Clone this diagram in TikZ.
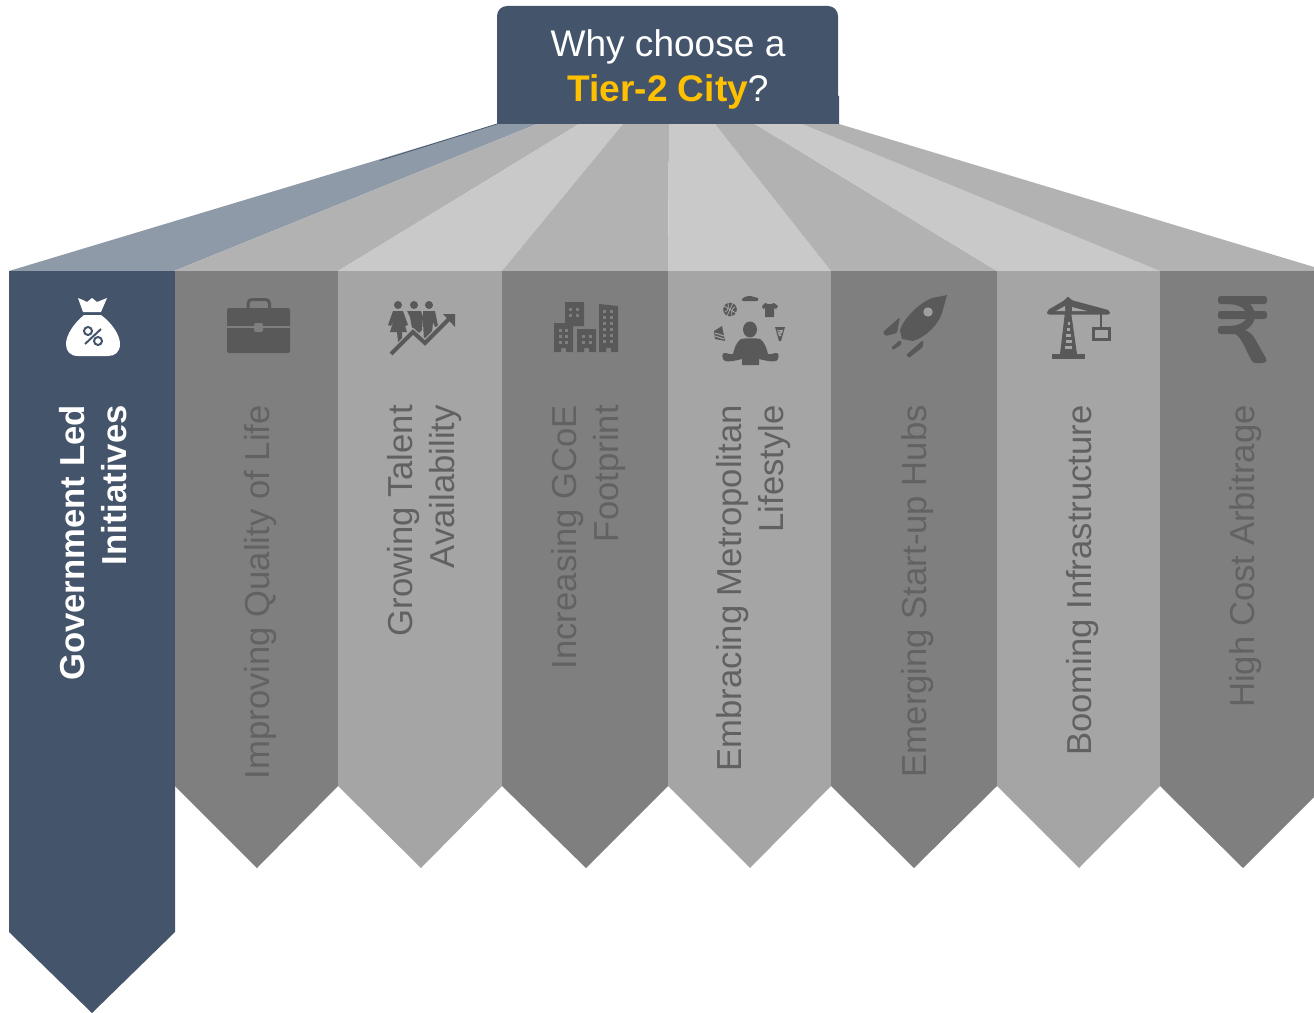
\documentclass[tikz,border=0pt]{standalone}
\usepackage{fontspec}
\setmainfont{Liberation Sans}
\definecolor{navy}{HTML}{44546A}
\definecolor{fanblue}{HTML}{8E9AA8}
\definecolor{fanmid}{HTML}{B2B2B2}
\definecolor{fanlite}{HTML}{C9C9C9}
\definecolor{coldark}{HTML}{7F7F7F}
\definecolor{collite}{HTML}{A5A5A5}
\definecolor{ink}{HTML}{595959}
\definecolor{gold}{HTML}{FFC000}
\tikzset{
  px/.style={line width=#1*0.75pt},
  lab/.style={inner sep=0pt,rotate=90,anchor=base east,align=right,font=\fontsize{26}{31.5}\selectfont},
  labdark/.style={lab,text=ink!75!coldark},
  lablite/.style={lab,text=ink!90!collite},
  icon/.style={fill=ink,draw=none},
}
\begin{document}
\begin{tikzpicture}[x=0.75pt,y=-0.75pt]
\useasboundingbox (0,0) rectangle (1314,1013);
\fill[white] (0,0) rectangle (1314,1013);
% fan
\fill[fanblue] (497,124)--(537,124)--(174,271)--(9,271)--cycle;
\fill[fanmid] (537,124)--(579,124)--(338,271)--(174,271)--cycle;
\fill[fanlite] (579,124)--(623,124)--(502,271)--(338,271)--cycle;
\fill[fanmid] (623,124)--(669,124)--(668,271)--(502,271)--cycle;
\fill[fanlite] (669,124)--(715,124)--(831,271)--(668,271)--cycle;
\fill[fanmid] (715,124)--(755,124)--(997,271)--(831,271)--cycle;
\fill[fanlite] (755,124)--(802,124)--(1160,271)--(997,271)--cycle;
\fill[fanmid] (802,124)--(839,124)--(1314,267)--(1314,271)--(1160,271)--cycle;
\draw[navy,px=.7] (497,124)--(380,160.5);
% columns
\fill[navy] (9,271)--(175,271)--(175,932)--(92,1013)--(9,932)--cycle;
\fill[coldark] (175,271)--(338,271)--(338,786)--(257,868)--(175,786)--cycle;
\fill[collite] (338,271)--(502,271)--(502,786)--(421,868)--(338,786)--cycle;
\fill[coldark] (502,271)--(668,271)--(668,786)--(586,868)--(502,786)--cycle;
\fill[collite] (668,271)--(831,271)--(831,786)--(750,868)--(668,786)--cycle;
\fill[coldark] (831,271)--(997,271)--(997,786)--(914,868)--(831,786)--cycle;
\fill[collite] (997,271)--(1160,271)--(1160,786)--(1079,868)--(997,786)--cycle;
\fill[coldark] (1160,271)--(1314,271)--(1314,797)--(1243,868)--(1160,786)--cycle;
% title box
\fill[navy] (497,124) [rounded corners=7.5pt] --(497,6)--(838,6) [sharp corners] --(838,96)--(839,96)--(839,124)--cycle;
\node[text=white,inner sep=0pt,anchor=base] (title1) at (668,57) {\fontsize{27.8}{33}\selectfont Why choose a};
\node[text=white,inner sep=0pt,anchor=base] (title2) at (668,102) {\fontsize{27.8}{33}\selectfont\textcolor{gold}{\textbf{Tier-2 City}}?};
% labels
\node[lab,text=white,font=\fontsize{26}{31.5}\selectfont\bfseries] (t1) at (126.5,405) {Government Led\\Initiatives};
\node[labdark] (t2) at (269,405) {Improving Quality of Life};
\node[lablite] (t3) at (454,405) {Growing Talent\\Availability};
\node[labdark] (t4) at (618.5,405) {Increasing GCoE\\Footprint};
\node[lablite] (t5) at (783.5,405) {Embracing Metropolitan\\Lifestyle};
\node[labdark] (t6) at (926.5,405) {Emerging Start-up Hubs};
\node[lablite] (t7) at (1091.5,405) {Booming Infrastructure};
\node[labdark] (t8) at (1254.5,405) {High Cost Arbitrage};
% money bag
\fill[white] (78,298)--(83,300)--(87,302)--(92,298)--(97,302)--(107,298)--(101,312)--(83,312)--cycle;
\fill[white] (84,315)--(101,315) .. controls (112,323) and (120,335) .. (120,344) .. controls (120,352) and (115,356) .. (108,356)--(78,356) .. controls (70,356) and (66,351) .. (66,344) .. controls (66,335) and (74,323) .. (84,315)--cycle;
\draw[navy,px=2] (88,331) circle[radius=4] (98,341) circle[radius=4] (85,344)--(101,329);
% briefcase
\fill[ink,rounded corners=1.5pt] (227,308) rectangle (290,353);
\draw[ink,px=3,rounded corners=3pt] (248,308)--(248,299.5)--(269.5,299.5)--(269.5,308);
\fill[coldark] (227,325.5) rectangle (290,327.5);
\fill[coldark,rounded corners=1.5pt] (254,323) rectangle (263,332);
% people + arrow
\fill[icon] (398,305) circle[radius=4] (414,305) circle[radius=4] (429,305) circle[radius=4];
\fill[icon] (393,311)--(403,311)--(408,325)--(405,326)--(403,319)--(407,332)--(402,332)--(402,342)--(398,342)--(397,332)--(390,332)--(394,319)--(391,326)--(388,325)--cycle;
\fill[icon] (407,311)--(421,311)--(423,317)--(422,330)--(418,334)--(412,328)--(410,317)--cycle;
\fill[icon] (423,311)--(435,311)--(438,326)--(435,327)--(433,322)--(432,333)--(424,342)--(423,322)--cycle;
\draw[collite,px=6.5] (392,353)--(413,332)--(425,343)--(449,319);
\draw[ink,px=4] (391,354)--(413,332)--(425,343)--(449,319);
\fill[icon] (443,314)--(455,314)--(455,327)--cycle;
% buildings
\fill[icon] (565,302)--(584,302)--(584,326)--(573,326)--(573,323)--(565,323)--cycle;
\fill[icon] (554,323)--(573,323)--(573,352)--(566,352)--(566,348)--(561,348)--(561,352)--(554,352)--cycle;
\fill[icon] (577,329)--(596,329)--(596,352)--(589,352)--(589,348)--(584,348)--(584,352)--(577,352)--cycle;
\fill[icon] (599,304)--(618,306)--(618,352)--(611,352)--(611,348)--(606,348)--(606,352)--(599,352)--cycle;
\foreach \x/\y in {570/309,577/309,570/315,577/315,
  560/330,566/330,560/336,566/336,560/342,566/342,
  583/336,590/336,583/342,590/342,
  604/311,611/311,604/317,611/317,604/323,611/323,604/329,611/329,604/335,611/335,604/341,611/341}
  \fill[coldark] (\x-1.5,\y-1.5) rectangle (\x+1.5,\y+1.5);
% meditating person
\fill[icon] (750,329.5) ellipse[x radius=7,y radius=8];
\fill[icon] (741,339) .. controls (745,338) and (755,338) .. (760,339) .. controls (765,342) and (767,350) .. (768,354) .. controls (770,355) and (774,353) .. (776,353) .. controls (780,352) and (779,360) .. (776,361) .. controls (772,362) and (767,361) .. (759,359)--(759,365)--(742,365)--(742,359) .. controls (734,361) and (729,362) .. (725,361) .. controls (722,360) and (721,352) .. (725,353) .. controls (727,353) and (731,355) .. (733,354) .. controls (734,350) and (736,342) .. (741,339)--cycle;
\fill[icon] (730,309.5) circle[radius=6.8];
\draw[collite,px=.8] (724,306)--(736,313) (733,303)--(727,316) (725,312) .. controls (728,311) and (729,307) .. (728,303) (735,307) .. controls (732,308) and (731,312) .. (732,316);
\fill[icon] (742,299) .. controls (745,296) and (750,295) .. (754,297)--(758,298) .. controls (759,299) and (758,301) .. (757,301)--(743,301) .. controls (742,301) and (742,300) .. (742,299)--cycle;
\fill[icon] (765,303)--(768,304)--(771,304)--(774,303)--(778,306)--(776,309)--(774,308)--(774,317)--(765,317)--(765,308)--(763,309)--(762,306)--cycle;
\fill[icon] (722,326)--(714,331)--(715,339)--(725,341)--cycle;
\draw[collite,px=1] (715,333)--(724,336) (715,336)--(724,339);
\fill[icon] (775,327)--(785,327)--(781,341)--(779,341)--cycle;
\fill[collite] (777,330)--(783,330)--(781,336)--(779,336)--cycle;
\fill[icon] (779,331.5) circle[radius=.9] (781,334) circle[radius=.8];
% rocket
\fill[icon] (947,295)--(932,298) .. controls (918,304) and (904,318) .. (900,330)--(902,339)--(913,341) .. controls (926,337) and (938,325) .. (942,313)--cycle;
\fill[collite!85!coldark] (928,312) circle[radius=4.7];
\fill[icon,rounded corners=1pt] (900,317)--(883,332)--(885,336)--(897,333)--cycle;
\fill[icon,rounded corners=1pt] (923,340)--(906,355)--(909,358)--(923,347)--cycle;
\fill[icon,rounded corners=1pt] (900,340)--(891,348)--(893,350)--(902,344)--cycle;
% crane
\fill[icon,rounded corners=1.5pt] (1068,296)--(1071,300)--(1110,310.5)--(1110,314.5)--(1047,314.5)--(1047,310.5)--(1065,300)--cycle;
\fill[icon] (1065,312)--(1071,312)--(1077,354)--(1060,354)--cycle;
\fill[icon] (1052,354) rectangle (1085,359);
\foreach \y/\w in {322/1,328/1.7,334/2.3,340/3,346/3.6}
  \fill[collite] (1068.5-\w,\y) rectangle (1068.5+\w,\y+2.5);
\fill[collite] (1056,311)--(1065,306)--(1065,311)--cycle (1072,307)--(1087,311)--(1072,311)--cycle;
\draw[ink,px=2] (1100.5,313)--(1100.5,328);
\draw[ink,px=3] (1093,328) rectangle (1109,339);
% rupee
\fill[ink,rounded corners=2pt] (1218,296) rectangle (1267,304);
\fill[ink,rounded corners=2pt] (1218,311) rectangle (1267,319);
\fill[ink,rounded corners=2pt] (1218,326) rectangle (1240,334);
\draw[ink,px=8] (1228,300) .. controls (1257,300) and (1260,330) .. (1228,330);
\fill[ink,rounded corners=2pt] (1231,333)--(1241,329) .. controls (1248,331) and (1252,334) .. (1255,339)--(1267,360)--(1265,363)--(1253,363) .. controls (1246,351) and (1241,335) .. (1231,333)--cycle;
\end{tikzpicture}
\end{document}
